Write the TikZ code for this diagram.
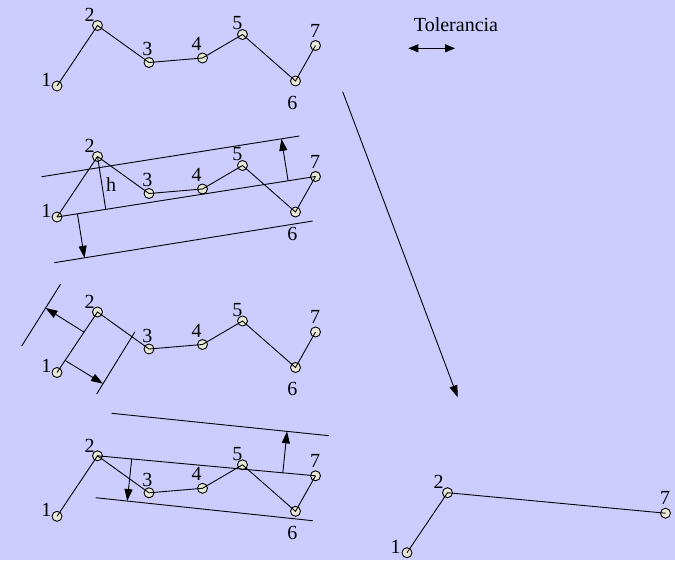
\documentclass[tikz,border=0pt]{standalone}
\usepackage{fontspec}
\setmainfont{Liberation Serif}
\usetikzlibrary{arrows.meta,calc}
\definecolor{paper}{HTML}{CCCCFF}
\definecolor{dotfill}{HTML}{E9E9DA}
\pgfdeclarelayer{back}
\pgfdeclarelayer{wires}
\pgfsetlayers{back,wires,main}

\tikzset{
  pt/.style={circle, draw, fill=dotfill, minimum size=10pt, inner sep=0pt, line width=0.9pt},
  lbl/.style={inner sep=0pt, font=\fontsize{20}{20}\selectfont},
  wire/.style={line width=0.9pt},
  tip/.style={wire, -{Triangle[length=12pt,width=8pt]}},
  tiptwo/.style={wire, {Triangle[length=10pt,width=8pt]}-{Triangle[length=10pt,width=8pt]}},
}

% seven-point polyline with its numbers; #1 is the name prefix
\newcommand{\zigzag}[1]{%
  \node[pt] (#1-1) at (57,86) {};
  \node[pt] (#1-2) at (97.5,25.5) {};
  \node[pt] (#1-3) at (149,62.5) {};
  \node[pt] (#1-4) at (202.5,58) {};
  \node[pt] (#1-5) at (242.5,34.5) {};
  \node[pt] (#1-6) at (295.5,81) {};
  \node[pt] (#1-7) at (315.5,45.5) {};
  \node[lbl] (#1-t1) at (46.5,79.5) {1};
  \node[lbl] (#1-t2) at (89.5,15.2) {2};
  \node[lbl] (#1-t3) at (147.3,49.3) {3};
  \node[lbl] (#1-t4) at (196.7,44) {4};
  \node[lbl] (#1-t5) at (237.3,23.3) {5};
  \node[lbl] (#1-t6) at (292.3,102.7) {6};
  \node[lbl] (#1-t7) at (315,30.7) {7};
  \draw[wire] (#1-1.center) -- (#1-2.center) -- (#1-3.center) -- (#1-4.center)
    -- (#1-5.center) -- (#1-6.center) -- (#1-7.center);
}

\begin{document}
\begin{tikzpicture}[x=1pt, y=-1pt]
  \useasboundingbox (0,0) rectangle (675,560);
  \begin{pgfonlayer}{back}
    \fill[paper] (0,0) rectangle (675,560);
  \end{pgfonlayer}

  % tolerance legend
  \node[lbl] (tol) at (456,24.5) {Tolerancia};
  \coordinate (tolL) at (408.3,48.3);
  \coordinate (tolR) at (455,48.3);
  \draw[tiptwo] (tolL) -- (tolR);

  % first row: original line
  \zigzag{a}

  % second row: band around the chord 1-7
  \begin{scope}[shift={(0,131)}]
    \zigzag{b}
  \end{scope}
  \coordinate (b-up1) at (41.7,176.7);
  \coordinate (b-up2) at (299.3,136);
  \coordinate (b-lo1) at (54.3,262.7);
  \coordinate (b-lo2) at (312.7,221);
  \coordinate (b-foot) at ($(b-1)!(b-2)!(b-7)$);
  \coordinate (b-s1) at ($(b-1)!0.894!(b-7)$);
  \coordinate (b-e1) at ($(b-up1)!(b-s1)!(b-up2)$);
  \coordinate (b-s2) at ($(b-1)!0.079!(b-7)$);
  \coordinate (b-e2) at ($(b-lo1)!(b-s2)!(b-lo2)$);
  \draw[wire] (b-1.center) -- (b-7.center);
  \draw[wire] (b-up1) -- (b-up2);
  \draw[wire] (b-lo1) -- (b-lo2);
  \draw[wire] (b-2.center) -- (b-foot);
  \draw[tip] (b-s1) -- (b-e1);
  \draw[tip] (b-s2) -- (b-e2);
  \node[lbl] (b-h) at (111.2,185) {h};

  % third row: band around the segment 1-2
  \begin{scope}[shift={(0,286.5)}]
    \zigzag{c}
  \end{scope}
  \coordinate (c-L1) at (60.7,284);
  \coordinate (c-L2) at (21.7,346);
  \coordinate (c-R1) at (135,331.7);
  \coordinate (c-R2) at (96.7,394);
  \coordinate (c-s1) at ($(c-1)!0.667!(c-2)$);
  \coordinate (c-e1) at ($(c-L1)!(c-s1)!(c-L2)$);
  \coordinate (c-s2) at ($(c-1)!0.2!(c-2)$);
  \coordinate (c-e2) at ($(c-R1)!(c-s2)!(c-R2)$);
  \draw[wire] (c-L1) -- (c-L2);
  \draw[wire] (c-R1) -- (c-R2);
  \draw[tip] (c-s1) -- (c-e1);
  \draw[tip] (c-s2) -- (c-e2);

  % fourth row: band around the chord 2-7
  \begin{scope}[shift={(0,430.3)}]
    \zigzag{d}
  \end{scope}
  \coordinate (d-up1) at (111.7,413.3);
  \coordinate (d-up2) at (329,435.7);
  \coordinate (d-lo1) at (95.7,497.7);
  \coordinate (d-lo2) at (312.7,520.7);
  \coordinate (d-s1) at ($(d-2)!0.85!(d-7)$);
  \coordinate (d-e1) at ($(d-up1)!(d-s1)!(d-up2)$);
  \coordinate (d-s2) at ($(d-2)!0.157!(d-7)$);
  \coordinate (d-e2) at ($(d-lo1)!(d-s2)!(d-lo2)$);
  \draw[wire] (d-2.center) -- (d-7.center);
  \draw[wire] (d-up1) -- (d-up2);
  \draw[wire] (d-lo1) -- (d-lo2);
  \draw[tip] (d-s1) -- (d-e1);
  \draw[tip] (d-s2) -- (d-e2);

  % result: simplified line
  \begin{scope}[shift={(350,36.7)}]
    \node[pt] (e-1) at (57,516) {};
    \node[pt] (e-2) at (97.5,456) {};
    \node[pt] (e-7) at (315.5,476.5) {};
    \node[lbl] (e-t1) at (45.5,510) {1};
    \node[lbl] (e-t2) at (88.5,445) {2};
    \node[lbl] (e-t7) at (315,461) {7};
  \end{scope}
  \draw[wire] (e-1.center) -- (e-2.center) -- (e-7.center);

  % flow arrow toward the result
  \coordinate (flowS) at (342.7,91.7);
  \coordinate (flowE) at (457.7,397.3);
  \draw[tip] (flowS) -- (flowE);
\end{tikzpicture}
\end{document}
